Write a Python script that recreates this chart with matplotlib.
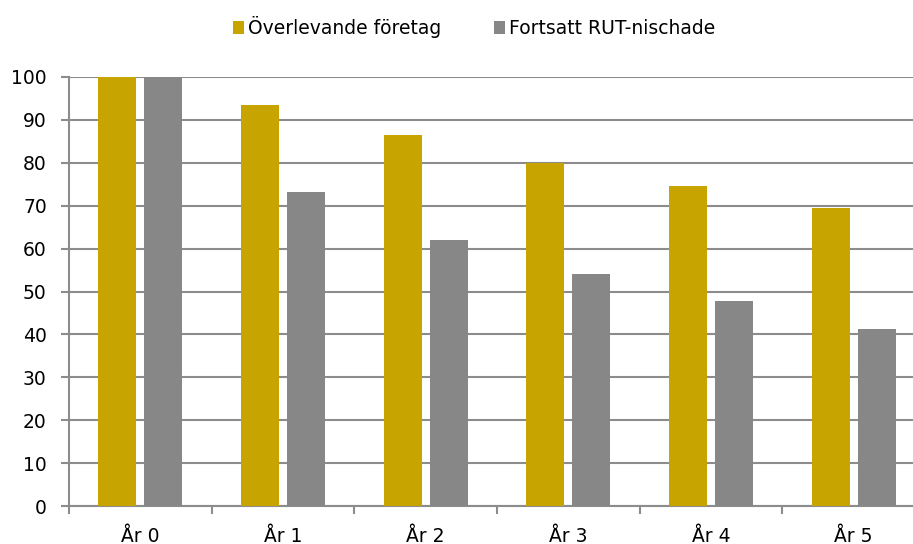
import matplotlib
matplotlib.use("Agg")
import matplotlib.pyplot as plt
import numpy as np

categories = ["År 0", "År 1", "År 2", "År 3", "År 4", "År 5"]
overlevande = [100, 93.5, 86.5, 80.0, 74.5, 69.5]
fortsatt_rut = [100, 73.1, 62.1, 54.0, 47.9, 41.3]
series_names = ["Överlevande företag", "Fortsatt RUT-nischade"]
yticks = list(range(0, 101, 10))

gold = "#C8A400"
gray = "#878787"
axis_col = "#8C8C8C"

plt.rcParams['font.family'] = ['DejaVu Sans']

fig = plt.figure(figsize=(9.13, 5.44), dpi=100)
ax = fig.add_axes([69/913, 38/544, (925-69)/913, (506-77)/544])

x = np.arange(len(categories))
w = 0.267
off = 0.161
ax.bar(x - off, overlevande, width=w, color=gold, label=series_names[0], zorder=3)
ax.bar(x + off, fortsatt_rut, width=w, color=gray, label=series_names[1], zorder=3)

ax.set_xlim(-0.5, len(categories) - 0.5)
ax.set_ylim(0, 100)
ax.set_yticks(yticks)
ax.set_yticklabels([str(v) for v in yticks], fontsize=13.5)
ax.set_xticks(x)
ax.set_xticklabels(categories, fontsize=13.5)
ax.set_xticks(np.arange(len(categories) + 1) - 0.5, minor=True)
ax.tick_params(axis='x', which='major', length=0, pad=15)
ax.tick_params(axis='x', which='minor', length=6, color=axis_col, width=1.5)
ax.tick_params(axis='y', length=6, color=axis_col, width=1.5, pad=10)

ax.grid(axis='y', color=axis_col, linewidth=1.5, zorder=0)
for s in ['top', 'right']:
    ax.spines[s].set_visible(False)
for s in ['left', 'bottom']:
    ax.spines[s].set_color(axis_col)
    ax.spines[s].set_linewidth(1.5)

fig.legend(loc='center', bbox_to_anchor=(474/913, 1 - 27/544), ncol=2, frameon=False,
           fontsize=13.5, handlelength=0.6, handleheight=0.7, handletextpad=0.2,
           columnspacing=2.8)

fig.savefig("out.png", dpi=100)
